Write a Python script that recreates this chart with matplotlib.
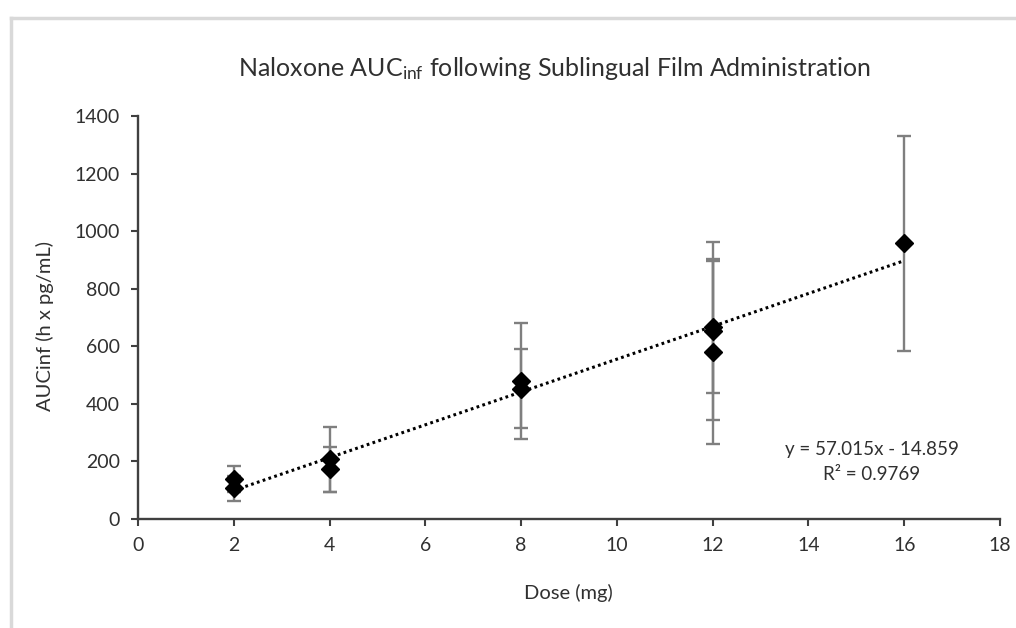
import matplotlib
matplotlib.use("Agg")
import matplotlib.pyplot as plt
from matplotlib.lines import Line2D
import numpy as np

plt.rcParams['font.family'] = ['Lato', 'DejaVu Sans']
plt.rcParams['mathtext.fontset'] = 'custom'
plt.rcParams['mathtext.rm'] = 'Lato'
plt.rcParams['mathtext.it'] = 'Lato'
plt.rcParams['mathtext.default'] = 'regular'

# Data
doses = [2, 2, 4, 4, 8, 8, 12, 12, 12, 16]
auc_inf = [138, 106, 208, 172, 480, 453, 653, 666, 581, 958]
auc_err = [45, 43, 113, 78, 202, 136, 308, 229, 322, 373]

x_ticks = [0, 2, 4, 6, 8, 10, 12, 14, 16, 18]
y_ticks = [0, 200, 400, 600, 800, 1000, 1200, 1400]

slope = 57.015
intercept = -14.859
r_squared = 0.9769

title = "Naloxone AUC$_{inf}$ following Sublingual Film Administration"
xlabel = "Dose (mg)"
ylabel = "AUCinf (h x pg/mL)"

text_color = '#303030'
axis_color = '#404040'

fig = plt.figure(figsize=(10.16, 6.28), dpi=100)
ax = fig.add_axes([138/1016, 1 - 519/628, (1000 - 138)/1016, (519 - 116)/628])

ax.errorbar(doses, auc_inf, yerr=auc_err, fmt='none', ecolor='#7f7f7f',
            elinewidth=1.7, capsize=5, capthick=1.7, zorder=2)
ax.plot(doses, auc_inf, linestyle='none', marker='D', markersize=9.5,
        color='black', zorder=4)

fit_x = np.array([min(doses), max(doses)])
ax.plot(fit_x, slope * fit_x + intercept, color='black', linewidth=2.2,
        linestyle=(0, (0.9, 1.1)), zorder=3)

ax.set_xlim(x_ticks[0], x_ticks[-1])
ax.set_ylim(y_ticks[0], y_ticks[-1])
ax.set_xticks(x_ticks)
ax.set_yticks(y_ticks)
ax.tick_params(axis='both', labelsize=14, colors=text_color, length=5,
               width=1.5, direction='out', pad=8)
ax.tick_params(axis='both', color=axis_color)

for s in ['top', 'right']:
    ax.spines[s].set_visible(False)
for s in ['left', 'bottom']:
    ax.spines[s].set_color(axis_color)
    ax.spines[s].set_linewidth(1.7)

fig.text(555/1016, 1 - 68/628, title, ha='center', va='center',
         fontsize=18, color=text_color)
fig.text(568/1016, 1 - 593/628, xlabel, ha='center', va='center',
         fontsize=14.5, color=text_color)
fig.text(45/1016, 1 - 326/628, ylabel, ha='center', va='center',
         rotation=90, fontsize=14.5, color=text_color)

eq = f"y = {slope}x - {abs(intercept)}"
fig.text(872/1016, 1 - 449/628, eq, ha='center', va='center',
         fontsize=13.5, color=text_color)
fig.text(872/1016, 1 - 474/628, f"R\u00b2 = {r_squared}", ha='center',
         va='center', fontsize=13.5, color=text_color)

# chart area frame (partially visible)
frame_color = '#d9d9d9'
fig.add_artist(Line2D([11/1016, 11/1016], [0, 1 - 18/628], color=frame_color,
                      linewidth=2.5, transform=fig.transFigure))
fig.add_artist(Line2D([11/1016, 1], [1 - 18/628, 1 - 18/628], color=frame_color,
                      linewidth=2.5, transform=fig.transFigure))

fig.savefig("out.png", dpi=100)
